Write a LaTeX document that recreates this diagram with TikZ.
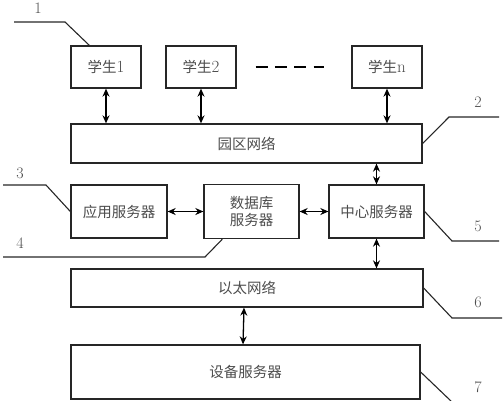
\documentclass[tikz,border=0pt]{standalone}
\usepackage{fontspec}
\newfontfamily\cjk{Noto Sans CJK SC}
\newfontfamily\lmdig{Latin Modern Roman}
\newcommand{\dg}[1]{{\lmdig\fontsize{17}{17}\selectfont #1}}
\usetikzlibrary{arrows.meta,calc}
\tikzset{
  box/.style={draw=black!85, line width=1.3pt, inner sep=0pt, text=black!70, font=\cjk\fontsize{14.5}{17}\selectfont},
  link/.style={line width=1.3pt, {Stealth[length=8pt,width=7pt]}-{Stealth[length=8pt,width=7pt]}},
  leader/.style={line width=1.1pt, draw=black!85},
  num/.style={text=black!70, font=\fontsize{16}{18}\selectfont}
}
\begin{document}
\begin{tikzpicture}[x=1pt,y=-1pt]
\useasboundingbox (0,0) rectangle (504,400);
\begin{scope}
\clip (0,0) rectangle (504,400);
% boxes
\node[box, minimum width=70pt, minimum height=42pt] (s1) at (106,67) {学生\dg{1}};
\node[box, minimum width=70pt, minimum height=42pt] (s2) at (201,67) {学生\dg{2}};
\node[box, minimum width=70pt, minimum height=42pt] (sn) at (387,67) {学生\dg{n}};
\node[box, minimum width=351pt, minimum height=39pt] (yq) at (246.5,143.5) {园区网络};
\node[box, minimum width=96pt, minimum height=53pt] (app) at (119,211.5) {应用服务器};
\node[box, minimum width=95pt, minimum height=54pt, align=center] (db) at (251.5,211.5) {数据库\\服务器};
\node[box, minimum width=95pt, minimum height=53pt] (ctr) at (376.5,211.5) {中心服务器};
\node[box, minimum width=352pt, minimum height=38pt] (eth) at (247,288) {以太网络};
\node[box, minimum width=349pt, minimum height=54pt] (dev) at (245.5,372) {设备服务器};
% dashes between students
\coordinate (d1) at ($(s2.east)+(19,0)$);
\coordinate (d2) at ($(sn.west)+(-27,0)$);
\draw[line width=1.3pt, dash pattern=on 12pt off 7.3pt] (d1) -- (d2);
% connectors
\draw[link] (s1.south) -- (s1.south |- yq.north);
\draw[link] (s2.south) -- (s2.south |- yq.north);
\draw[link] (sn.south) -- (sn.south |- yq.north);
\draw[link] (ctr.north) -- (ctr.north |- yq.south);
\draw[link] (app.east) -- (db.west);
\draw[link] (db.east) -- (ctr.west);
\draw[link] (ctr.south) -- (ctr.south |- eth.north);
\draw[link] ($(eth.south)+(-3,0)$) -- ($(dev.north)+(-2.5,0)$);
% leaders
\coordinate (l1a) at (65,22); \coordinate (l1b) at (14,22);
\draw[leader] ($(s1.north west)+(19,0)$) -- (l1a) -- (l1b);
\node[num] (n1) at (38,8) {1};
\coordinate (l2a) at (449,117); \coordinate (l2b) at (499,117);
\draw[leader] (yq.east) -- (l2a) -- (l2b);
\node[num] (n2) at (478,102) {2};
\coordinate (l3a) at (46,185); \coordinate (l3b) at (3,185);
\draw[leader] (app.west) -- (l3a) -- (l3b);
\node[num] (n3) at (20,173) {3};
\coordinate (l4a) at (205,257); \coordinate (l4b) at (3,257);
\draw[leader] ($(db.south west)+(19,0)$) -- (l4a) -- (l4b);
\node[num] (n4) at (20,243) {4};
\coordinate (l5a) at (452,241); \coordinate (l5b) at (499,241);
\draw[leader] (ctr.east) -- (l5a) -- (l5b);
\node[num] (n5) at (478,226) {5};
\coordinate (l6a) at (452,318); \coordinate (l6b) at (502,318);
\draw[leader] (eth.east) -- (l6a) -- (l6b);
\node[num] (n6) at (478,302) {6};
\coordinate (l7a) at (452,402);
\draw[leader] (dev.east) -- (l7a);
\node[num] (n7) at (478,387) {7};
\end{scope}
\end{tikzpicture}
\end{document}
